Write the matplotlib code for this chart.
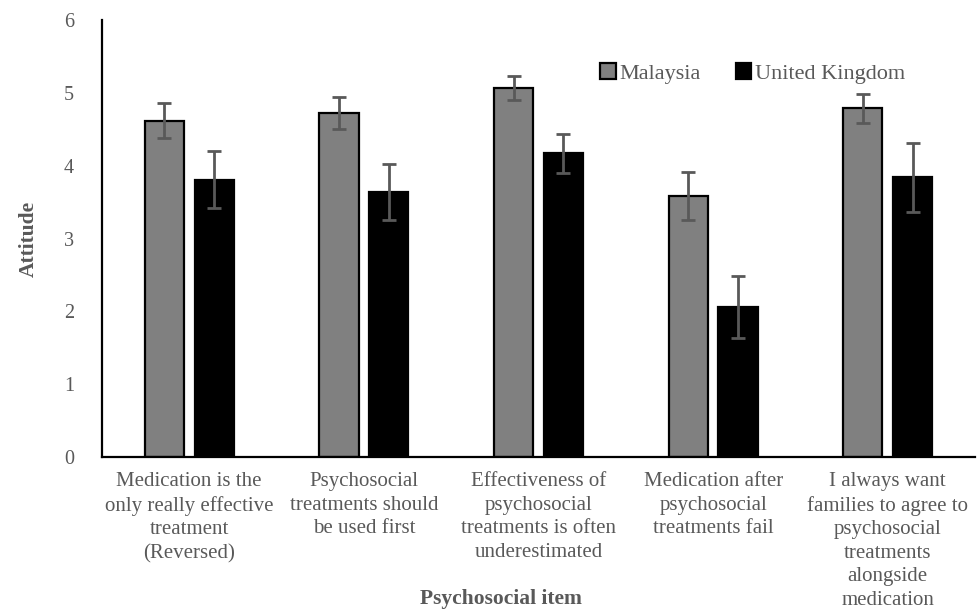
import matplotlib
matplotlib.use("Agg")
import matplotlib.pyplot as plt
import numpy as np

categories = [
    "Medication is the\nonly really effective\ntreatment\n(Reversed)",
    "Psychosocial\ntreatments should\nbe used first",
    "Effectiveness of\npsychosocial\ntreatments is often\nunderestimated",
    "Medication after\npsychosocial\ntreatments fail",
    "I always want\nfamilies to agree to\npsychosocial\ntreatments\nalongside\nmedication",
]
series_names = ["Malaysia", "United Kingdom"]
malaysia = [4.62, 4.73, 5.07, 3.58, 4.79]
malaysia_err = [0.24, 0.22, 0.16, 0.33, 0.20]
uk = [3.81, 3.64, 4.17, 2.06, 3.84]
uk_err = [0.39, 0.38, 0.27, 0.43, 0.48]
yticks = [0, 1, 2, 3, 4, 5, 6]

plt.rcParams['font.family'] = ['Liberation Serif', 'DejaVu Serif']
grey_text = '#595959'

fig = plt.figure(figsize=(9.8, 6.13), dpi=100)
ax = fig.add_axes([0.104, 0.2545, 0.891, 0.7125])

x = np.arange(len(categories))
w = 0.225
off = 0.143
err_kw = dict(ecolor='#595959', elinewidth=2, capsize=5, capthick=2)
ax.bar(x - off, malaysia, w, yerr=malaysia_err, color='#808080',
       edgecolor='black', linewidth=1.6, label=series_names[0], error_kw=err_kw)
ax.bar(x + off, uk, w, yerr=uk_err, color='black',
       edgecolor='black', linewidth=1.6, label=series_names[1], error_kw=err_kw)

ax.set_xlim(-0.5, 4.5)
ax.set_ylim(0, 6)
ax.set_yticks(yticks)
ax.set_xticks(x)
ax.set_xticklabels(categories, fontsize=15, color=grey_text, linespacing=1.32)
ax.tick_params(axis='y', labelsize=14.5, labelcolor=grey_text, length=0, pad=20)
ax.tick_params(axis='x', length=0, pad=11)

for s in ['top', 'right']:
    ax.spines[s].set_visible(False)
for s in ['left', 'bottom']:
    ax.spines[s].set_linewidth(1.6)
    ax.spines[s].set_color('black')

ax.set_ylabel("Attitude", fontsize=15.5, fontweight='bold', color=grey_text, labelpad=18)
fig.text(0.511, 0.023, "Psychosocial item", fontsize=15.5, fontweight='bold',
         color=grey_text, ha='center', va='center')

leg = ax.legend(loc='center', bbox_to_anchor=(0.745, 0.878), ncol=2, frameon=False,
                fontsize=16, handlelength=0.7, handleheight=0.7, handletextpad=0.15,
                columnspacing=1.6)
for t in leg.get_texts():
    t.set_color(grey_text)

fig.savefig("out.png", dpi=100)
